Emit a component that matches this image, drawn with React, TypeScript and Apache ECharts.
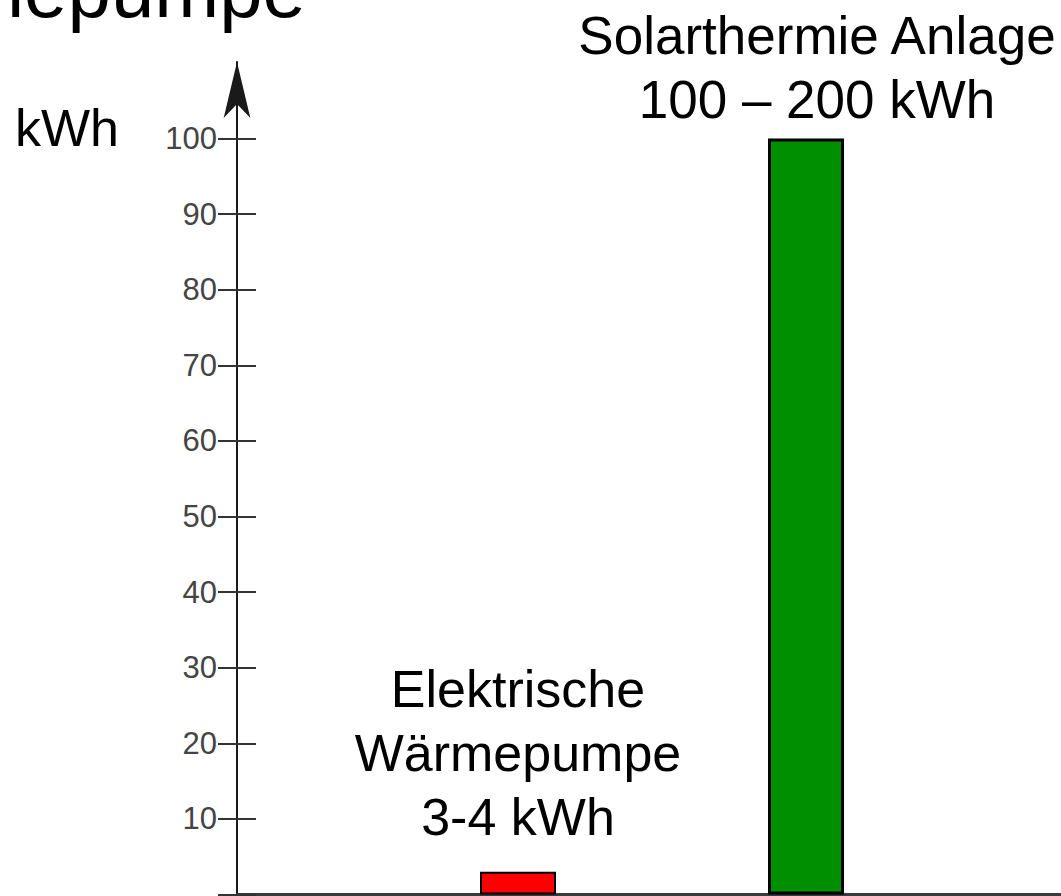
import React, { useEffect, useRef } from "react";
import * as echarts from "echarts";

const categories = ["Elektrische Wärmepumpe", "Solarthermie Anlage"];
const values = [3, 100];
const barLabels = ["Elektrische\nWärmepumpe\n3-4 kWh", "Solarthermie Anlage\n100 – 200 kWh"];
const barColors = ["#ff0000", "#008f00"];
const yMin = 0;
const yMax = 100;
const yInterval = 10;
const unitLabel = "kWh";
const titleText = "Wärmepumpe";

const FONT = '"Liberation Sans", Arial, Helvetica, sans-serif';

export default function App() {
  const ref = useRef<HTMLDivElement>(null);
  useEffect(() => {
    if (!ref.current) return;
    document.body.style.margin = "0";
    document.body.style.overflow = "hidden";
    const chart = echarts.init(ref.current, null, { renderer: "svg" });
    const zeroY = 894.5;
    const pxPerUnit = 7.56;
    const bottom = 896 - zeroY;
    const topB = zeroY - (yMax - yMin) * pxPerUnit;
    chart.setOption({
      animation: false,
      backgroundColor: "#ffffff",
      grid: [
        { left: 237, right: 0, top: 62, bottom: bottom },
        { left: 374, width: 576, top: topB, bottom: bottom },
      ],
      xAxis: [
        {
          gridIndex: 0,
          type: "value",
          min: 0,
          max: 1,
          axisLine: { show: true, onZero: false, lineStyle: { color: "#3a3a3a", width: 3 } },
          axisTick: { show: false },
          axisLabel: { show: false },
          splitLine: { show: false },
        },
        {
          gridIndex: 1,
          type: "category",
          data: categories,
          show: false,
        },
      ],
      yAxis: [
        {
          gridIndex: 0,
          type: "value",
          min: 0,
          max: 1,
          axisLine: {
            show: true,
            onZero: false,
            symbol: ["none", "arrow"],
            symbolSize: [20, 56],
            lineStyle: { color: "#1a1a1a", width: 2 },
          },
          axisTick: { show: false },
          axisLabel: { show: false },
          splitLine: { show: false },
        },
        {
          gridIndex: 1,
          type: "value",
          min: yMin,
          max: yMax,
          interval: yInterval,
          position: "left",
          offset: 118,
          axisLine: { show: false },
          axisTick: { show: true, length: 38, lineStyle: { color: "#333", width: 2 } },
          axisLabel: {
            margin: 39,
            fontSize: 31,
            color: "#444",
            fontFamily: FONT,
            formatter: (v: number) => (v === 0 ? "" : String(v)),
          },
          splitLine: { show: false },
        },
      ],
      series: [
        {
          type: "bar",
          xAxisIndex: 1,
          yAxisIndex: 1,
          barWidth: 76,
          data: values.map((v, i) => ({
            value: v,
            itemStyle: {
              color: barColors[i],
              borderColor: "#000",
              borderWidth: i === 0 ? 2 : 3,
            },
            label:
              i === 1
                ? { offset: [11, 0], distance: 7, fontSize: 53 }
                : { distance: 23, fontSize: 52 },
          })),
          label: {
            show: true,
            position: "top",
            formatter: (p: any) => barLabels[p.dataIndex],
            fontSize: 52,
            lineHeight: 64,
            color: "#000",
            fontFamily: FONT,
            align: "center",
          },
        },
      ],
      graphic: [
        {
          type: "text",
          x: 15,
          y: 128,
          style: {
            text: unitLabel,
            fontSize: 52,
            fontFamily: FONT,
            fill: "#000",
            align: "left",
            verticalAlign: "middle",
          },
        },
        {
          type: "text",
          x: 306,
          y: -10,
          style: {
            text: titleText,
            fontSize: 78,
            fontFamily: FONT,
            fill: "#000",
            align: "right",
            verticalAlign: "middle",
          },
        },
      ],
    });
    return () => chart.dispose();
  }, []);
  return (
    <div
      ref={ref}
      style={{ position: "absolute", left: 0, top: 0, width: 1061, height: 896 }}
    />
  );
}
